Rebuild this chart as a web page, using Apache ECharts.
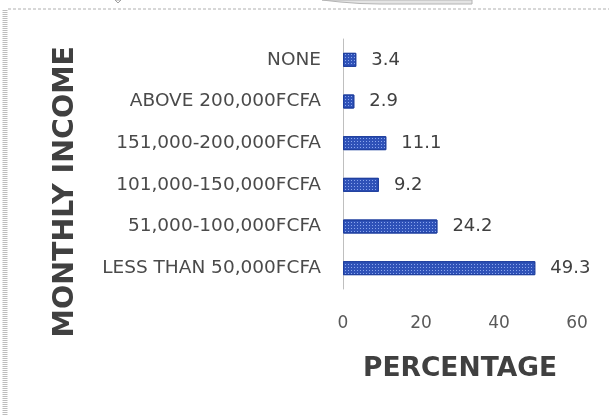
<!DOCTYPE html>
<html>
<head>
<meta charset="utf-8">
<script src="https://cdn.jsdelivr.net/npm/echarts@6/dist/echarts.min.js"></script>
<style>
  html, body { margin: 0; padding: 0; background: #ffffff; }
  #chart { width: 609px; height: 416px; }
</style>
</head>
<body>
<div id="chart"></div>
<script>
// Income brackets, listed bottom to top as the category axis draws them
const categories = [
  'LESS THAN 50,000FCFA',
  '51,000-100,000FCFA',
  '101,000-150,000FCFA',
  '151,000-200,000FCFA',
  'ABOVE 200,000FCFA',
  'NONE'
];
// Share of respondents in each bracket (%)
const percentages = [49.3, 24.2, 9.2, 11.1, 2.9, 3.4];
// Value-axis tick labels
const xTicks = [0, 20, 40, 60];

const FONT = '"DejaVu Sans", "Open Sans", sans-serif';

const chart = echarts.init(document.getElementById('chart'), null, { renderer: 'canvas' });

chart.setOption({
  backgroundColor: '#ffffff',
  animation: false,
  aria: { enabled: true, decal: { show: true } },
  grid: { left: 343, right: 32, top: 39, bottom: 127, containLabel: false },
  xAxis: {
    type: 'value',
    min: xTicks[0],
    max: xTicks[xTicks.length - 1],
    interval: xTicks[1] - xTicks[0],
    splitLine: { show: false },
    axisLine: { show: false },
    axisTick: { show: false },
    axisLabel: { color: '#595959', fontSize: 17, fontFamily: FONT, margin: 26 },
    name: 'PERCENTAGE',
    nameLocation: 'middle',
    nameGap: 67,
    nameTextStyle: { color: '#404040', fontSize: 26.5, fontWeight: 'bold', fontFamily: FONT }
  },
  yAxis: {
    type: 'category',
    data: categories,
    axisLine: { show: true, lineStyle: { color: '#bfbfbf', width: 1 } },
    axisTick: { show: false },
    axisLabel: { color: '#4a4a4a', fontSize: 18.5, fontFamily: FONT, margin: 22 }
  },
  series: [{
    type: 'bar',
    data: percentages,
    barWidth: 14,
    itemStyle: {
      color: '#2f52b8',
      borderColor: '#1f3f9e',
      borderWidth: 1,
      decal: {
        symbol: 'rect',
        symbolSize: 1,
        color: 'rgba(170,195,255,0.75)',
        dashArrayX: [1, 2],
        dashArrayY: [1, 2],
        rotation: 0
      }
    },
    label: {
      show: true,
      position: 'right',
      distance: 15,
      color: '#404040',
      fontSize: 18,
      fontFamily: FONT,
      formatter: p => p.value.toFixed(1)
    }
  }],
  graphic: [
    // rotated category-axis title
    {
      type: 'text',
      left: 51, top: 46,
      rotation: Math.PI / 2,
      style: {
        text: 'MONTHLY INCOME',
        fill: '#404040',
        font: 'bold 28.5px ' + FONT
      }
    },
    // frame lines of the surrounding panel
    {
      type: 'line',
      shape: { x1: 8, y1: 9, x2: 609, y2: 9 },
      style: { stroke: '#b0b0b0', lineWidth: 1, lineDash: [3, 2] }
    },
    {
      type: 'line',
      shape: { x1: 5, y1: 10, x2: 5, y2: 416 },
      style: { stroke: '#bdbdbd', lineWidth: 5, lineDash: [1, 1] }
    },
    // small marker and callout edge at the top
    {
      type: 'polygon',
      shape: { points: [[115, 0], [121, 0], [118, 3]] },
      style: { fill: '#ffffff', stroke: '#a0a0a0', lineWidth: 1 }
    },
    {
      type: 'polygon',
      shape: { points: [[322, 0], [340, 2], [360, 3.5], [380, 4], [472, 4], [472, 0]] },
      style: { fill: '#e4e4e4', stroke: '#b4b4b4', lineWidth: 1 }
    }
  ]
});
</script>
</body>
</html>
